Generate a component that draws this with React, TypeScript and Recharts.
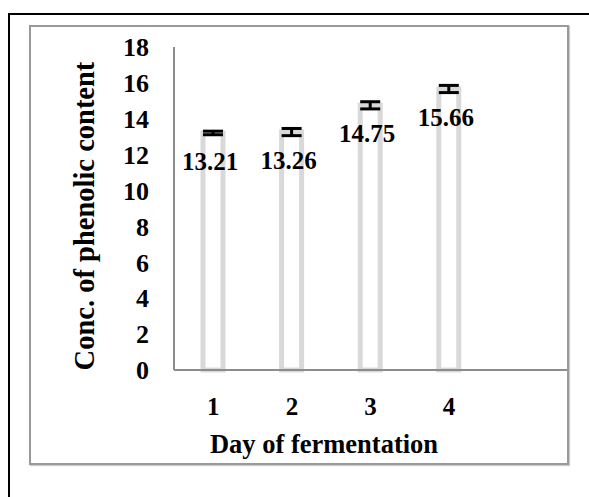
import { BarChart, Bar, XAxis, YAxis, ErrorBar, LabelList } from 'recharts';

const days = ['1', '2', '3', '4', ''];
const phenolic: (number | null)[] = [13.21, 13.26, 14.75, 15.66, null];
const errors: (number | null)[] = [0.1, 0.2, 0.2, 0.2, null];
const yTicks = [0, 2, 4, 6, 8, 10, 12, 14, 16, 18];

const chartData = days.map((day, i) => ({
  day,
  value: phenolic[i] ?? undefined,
  err: errors[i] ?? undefined,
}));

const font = '"Liberation Serif", "Times New Roman", serif';

const ValueLabel = (props: any) => {
  const { x, y, width, value } = props;
  if (value == null) return null;
  return (
    <text
      x={x + width / 2 - 3}
      y={y + 37}
      textAnchor="middle"
      fontFamily={font}
      fontWeight="bold"
      fontSize={25}
      fill="#000"
    >
      {value.toFixed(2)}
    </text>
  );
};

export default function App() {
  return (
    <div style={{ position: 'absolute', left: 0, top: 0, width: 589, height: 497, background: '#fff', overflow: 'hidden' }}>
      <div style={{ position: 'absolute', left: 8, top: 13, width: 640, height: 540, border: '2px solid #000' }} />
      <div style={{ position: 'absolute', left: 29, top: 25, width: 536, height: 436, border: '2px solid #999', boxShadow: '1px 1px 1px #ccc' }} />
      <div style={{ position: 'absolute', left: 0, top: 0 }}>
        <BarChart
          width={589}
          height={497}
          data={chartData}
          margin={{ top: 47, right: 22, bottom: 97, left: 114 }}
          barCategoryGap="0%"
        >
          <XAxis
            dataKey="day"
            height={30}
            axisLine={{ stroke: '#8c8c8c', strokeWidth: 2 }}
            tickLine={false}
            tickSize={0}
            tickMargin={27}
            tick={{ fontFamily: font, fontWeight: 'bold', fontSize: 25, fill: '#000' }}
            label={{
              content: () => (
                <text x={324} y={453} textAnchor="middle" fontFamily={font} fontWeight="bold" fontSize={26.5} fill="#000">
                  Day of fermentation
                </text>
              ),
            }}
          />
          <YAxis
            width={60}
            domain={[0, 18]}
            ticks={yTicks}
            interval={0}
            axisLine={{ stroke: '#8c8c8c', strokeWidth: 2 }}
            tickLine={false}
            tickSize={0}
            tickMargin={25}
            tick={{ fontFamily: font, fontWeight: 'bold', fontSize: 26, fill: '#000' }}
            label={{
              content: () => (
                <text
                  x={0}
                  y={0}
                  transform="translate(94 216) rotate(-90)"
                  textAnchor="middle"
                  fontFamily={font}
                  fontWeight="bold"
                  fontSize={28.5}
                  fill="#000"
                >
                  Conc. of phenolic content
                </text>
              ),
            }}
          />
          <Bar dataKey="value" barSize={20} fill="#fff" stroke="#d9d9d9" strokeWidth={5} isAnimationActive={false}>
            <ErrorBar dataKey="err" width={10} strokeWidth={3} stroke="#000" />
            <LabelList dataKey="value" content={ValueLabel} />
          </Bar>
        </BarChart>
      </div>
    </div>
  );
}
